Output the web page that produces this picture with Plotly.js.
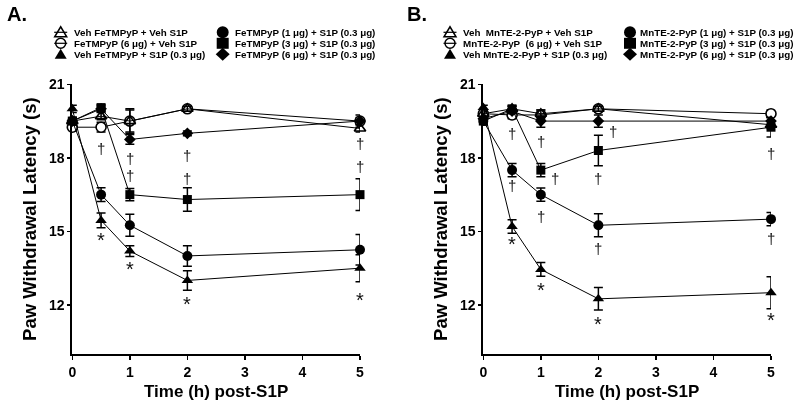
<!DOCTYPE html>
<html>
<head>
<meta charset="utf-8">
<script src="https://cdn.plot.ly/plotly-3.0.1.min.js"></script>
<style>html,body{margin:0;padding:0;background:#fff;}#chart{width:800px;height:407px;filter:grayscale(1);}</style>
</head>
<body>
<div id="chart"></div>
<script>
// ---------- data ----------
const timeH = [0, 0.5, 1, 2, 5];

// Panel A (FeTMPyP)
const A_names = ["Veh FeTMPyP + Veh S1P", "FeTMPyP (6 μg) + Veh S1P", "Veh FeTMPyP + S1P (0.3 μg)",
                 "FeTMPyP (1 μg) + S1P (0.3 μg)", "FeTMPyP (3 μg) + S1P (0.3 μg)", "FeTMPyP (6 μg) + S1P (0.3 μg)"];
const A_vehVeh   = [19.5, 19.7, 19.5, 20.0, 19.2];
const A_vehVehE  = [0.15, 0.15, 0.5, 0.1, 0.15];
const A_fe6Veh   = [19.25, 19.25, 19.5, 20.0, 19.5];
const A_fe6VehE  = [0.15, 0.2, 0.45, 0.1, 0.15];
const A_vehS1P   = [20.0, 15.45, 14.2, 13.0, 13.5];
const A_vehS1PE  = [0.15, 0.3, 0.22, 0.4, 0.55];
const A_fe1S1P   = [19.5, 16.5, 15.25, 14.0, 14.25];
const A_fe1S1PE  = [0.15, 0.28, 0.45, 0.42, 0.62];
const A_fe3S1P   = [19.5, 20.05, 16.5, 16.3, 16.5];
const A_fe3S1PE  = [0.15, 0.12, 0.25, 0.48, 0.65];
const A_fe6S1P   = [19.5, 20.0, 18.75, 19.0, 19.5];
const A_fe6S1PE  = [0.15, 0.12, 0.2, 0.1, 0.25];
const A_daggerX  = [0.5, 1, 1, 2, 2, 5, 5];
const A_daggerY  = [18.46, 18.05, 17.37, 18.16, 17.23, 18.66, 17.71];
const A_starX    = [0.5, 1, 2, 5];
const A_starY    = [14.72, 13.56, 12.13, 12.27];

// Panel B (MnTE-2-PyP)
const B_names = ["Veh  MnTE-2-PyP + Veh S1P", "MnTE-2-PyP  (6 μg) + Veh S1P", "Veh MnTE-2-PyP + S1P (0.3 μg)",
                 "MnTE-2-PyP (1 μg) + S1P (0.3 μg)", "MnTE-2-PyP (3 μg) + S1P (0.3 μg)", "MnTE-2-PyP (6 μg) + S1P (0.3 μg)"];
const B_vehVeh   = [19.8, 20.0, 19.8, 20.0, 19.35];
const B_vehVehE  = [0.1, 0.1, 0.15, 0.1, 0.15];
const B_mn6Veh   = [19.8, 19.75, 19.75, 20.0, 19.8];
const B_mn6VehE  = [0.1, 0.15, 0.2, 0.1, 0.15];
const B_vehS1P   = [20.05, 15.2, 13.45, 12.25, 12.5];
const B_vehS1PE  = [0.1, 0.28, 0.28, 0.46, 0.65];
const B_mn1S1P   = [19.5, 17.5, 16.5, 15.25, 15.5];
const B_mn1S1PE  = [0.15, 0.27, 0.27, 0.47, 0.27];
const B_mn3S1P   = [19.5, 20.0, 17.5, 18.3, 19.25];
const B_mn3S1PE  = [0.15, 0.12, 0.27, 0.62, 0.4];
const B_mn6S1P   = [19.6, 19.9, 19.5, 19.5, 19.5];
const B_mn6S1PE  = [0.1, 0.1, 0.25, 0.25, 0.15];
const B_daggerX  = [0.5, 0.5, 1, 1.25, 1, 2.26, 2, 2, 5, 5];
const B_daggerY  = [19.07, 16.96, 18.73, 17.23, 15.67, 19.14, 17.23, 14.38, 18.25, 14.79];
const B_starX    = [0.5, 1, 2, 5];
const B_starY    = [14.58, 12.68, 11.32, 11.46];

const xTicks = [0, 1, 2, 3, 4, 5];
const yTicks = [12, 15, 18, 21];

// ---------- styles ----------
const FONT = "Liberation Sans, Arial, sans-serif";
const styles = [
  {symbol: "triangle-up-open", color: "#000", line: {color: "#000", width: 1.6}, size: 10},
  {symbol: "circle", color: "#fff", line: {color: "#000", width: 1.6}, size: 10},
  {symbol: "triangle-up", color: "#000", line: {color: "#000", width: 0}, size: 10},
  {symbol: "circle", color: "#000", line: {color: "#000", width: 0}, size: 10},
  {symbol: "square", color: "#000", line: {color: "#000", width: 0}, size: 9},
  {symbol: "diamond", color: "#000", line: {color: "#000", width: 0}, size: 9}
];
const drawOrder = [1, 0, 2, 3, 4, 5];

function makeTraces(names, ys, es, xa, ya) {
  const out = [];
  drawOrder.forEach(i => {
    out.push({
      type: "scatter", mode: "lines+markers", name: names[i], showlegend: false,
      x: timeH, y: ys[i], xaxis: xa, yaxis: ya, cliponaxis: false,
      line: {color: "#000", width: 1},
      marker: {symbol: styles[i].symbol, size: styles[i].size, color: styles[i].color, line: styles[i].line},
      error_y: {type: "data", array: es[i], visible: true, color: "#000", thickness: 1.5, width: 4.5}
    });
  });
  return out;
}

const traces = [].concat(
  makeTraces(A_names, [A_vehVeh, A_fe6Veh, A_vehS1P, A_fe1S1P, A_fe3S1P, A_fe6S1P],
             [A_vehVehE, A_fe6VehE, A_vehS1PE, A_fe1S1PE, A_fe3S1PE, A_fe6S1PE], "x", "y"),
  makeTraces(B_names, [B_vehVeh, B_mn6Veh, B_vehS1P, B_mn1S1P, B_mn3S1P, B_mn6S1P],
             [B_vehVehE, B_mn6VehE, B_vehS1PE, B_mn1S1PE, B_mn3S1PE, B_mn6S1PE], "x2", "y2")
);

// ---------- layout ----------
const W = 800, H = 407;
const px = v => v / W, py = v => 1 - v / H;

function xAxis(domain, anchor) {
  return {domain: domain, anchor: anchor, range: [0, 5], tickvals: xTicks, ticktext: xTicks.map(String),
    showline: true, linewidth: 2, linecolor: "#000", ticks: "outside", ticklen: 4, tickwidth: 1.5, tickcolor: "#000",
    showgrid: false, zeroline: false, tickfont: {family: FONT, size: 14, color: "#000", weight: "bold"},
    title: {text: "Time (h) post-S1P", font: {family: FONT, size: 17, color: "#000", weight: "bold"}, standoff: 6}};
}
function yAxis(domain, anchor) {
  return {domain: domain, anchor: anchor, range: [10, 21], tickvals: yTicks, ticktext: yTicks.map(String),
    showline: true, linewidth: 2, linecolor: "#000", ticks: "outside", ticklen: 3, tickwidth: 1.5, tickcolor: "#000",
    showgrid: false, zeroline: false, tickfont: {family: FONT, size: 14, color: "#000", weight: "bold"},
    title: {text: "Paw Withdrawal Latency (s)", font: {family: FONT, size: 18.5, color: "#000", weight: "bold"}, standoff: 7}};
}

const annotations = [];
const shapes = [];

// significance marks (data coordinates)
function addMarks(xs, ys, xref, yref, txt, size, shift) {
  xs.forEach((x, i) => annotations.push({xref: xref, yref: yref, x: x, y: ys[i], text: txt, showarrow: false,
    yshift: shift, borderpad: 0, font: {family: FONT, size: size, color: "#111"}}));
}
addMarks(A_daggerX, A_daggerY, "x", "y", "†", 15, -2);
addMarks(B_daggerX, B_daggerY, "x2", "y2", "†", 15, -2);
addMarks(A_starX, A_starY, "x", "y", "*", 20, -2);
addMarks(B_starX, B_starY, "x2", "y2", "*", 20, -2);

// legends: text via one annotation per column (11px line spacing), symbols as pixel-sized shapes
const rowsY = [32.3, 43.3, 54.3];
const BASE = 11 / 1.3;
const TRI = "M-6,-4.5L6,-4.5L0,5.5Z";
const DIA = "M0,6.5L7,0L0,-6.5L-7,0Z";
const legendSymbols = [
  {type: "path", path: TRI, filled: false, through: true},
  {type: "circle", r: 5, filled: false, through: true},
  {type: "path", path: TRI, filled: true},
  {type: "circle", r: 6, filled: true},
  {type: "rect", w: 6, h: 5.5, filled: true},
  {type: "path", path: DIA, filled: true}
];
function addSymbol(sym, x, y) {
  const base = {xref: "paper", yref: "paper", xsizemode: "pixel", ysizemode: "pixel", xanchor: px(x), yanchor: py(y),
    fillcolor: sym.filled ? "#000" : "rgba(0,0,0,0)", line: {color: "#000", width: sym.filled ? 0 : 1.5}};
  if (sym.type === "path") shapes.push(Object.assign(base, {type: "path", path: sym.path}));
  else if (sym.type === "circle") shapes.push(Object.assign(base, {type: "circle", x0: -sym.r, x1: sym.r, y0: -sym.r, y1: sym.r}));
  else shapes.push(Object.assign(base, {type: "rect", x0: -sym.w, x1: sym.w, y0: -sym.h, y1: sym.h}));
  if (sym.through) shapes.push({type: "line", xref: "paper", yref: "paper", x0: px(x - 6.5), x1: px(x + 6.5),
    y0: py(y), y1: py(y), line: {color: "#000", width: 1.2}});
}
function addLegend(names, col1Marker, col1Text, col2Marker, col2Text) {
  [0, 1].forEach(col => {
    const idx = [col * 3, col * 3 + 1, col * 3 + 2];
    const mx = col === 0 ? col1Marker : col2Marker;
    const tx = col === 0 ? col1Text : col2Text;
    annotations.push({xref: "paper", yref: "paper", x: px(tx), y: py(rowsY[1]), xanchor: "left", yanchor: "middle",
      align: "left", borderpad: 0,
      text: idx.map(i => `<span style="font-size:9.8px">${names[i]}</span>`).join("<br>"),
      showarrow: false, font: {family: FONT, size: BASE, color: "#000", weight: "bold"}});
    idx.forEach((i, r) => addSymbol(legendSymbols[i], mx, rowsY[r]));
  });
}
addLegend(A_names, 60.7, 73, 222.7, 234);
addLegend(B_names, 450, 462, 630, 639);
annotations.push({xref: "paper", yref: "paper", x: px(5), y: py(13.5), xanchor: "left", yanchor: "middle",
  text: "A.", showarrow: false, font: {family: FONT, size: 20, color: "#000", weight: "bold"}});
annotations.push({xref: "paper", yref: "paper", x: px(405), y: py(13.5), xanchor: "left", yanchor: "middle",
  text: "B.", showarrow: false, font: {family: FONT, size: 20, color: "#000", weight: "bold"}});

const yDom = [py(354), py(84.3)];
const layout = {
  width: W, height: H, margin: {l: 0, r: 0, t: 0, b: 0},
  paper_bgcolor: "#fff", plot_bgcolor: "#fff", showlegend: false,
  font: {family: FONT, color: "#000"},
  xaxis: xAxis([px(72.3), px(360)], "y"),
  yaxis: yAxis(yDom, "x"),
  xaxis2: xAxis([px(483.3), px(771)], "y2"),
  yaxis2: yAxis(yDom, "x2"),
  annotations: annotations, shapes: shapes
};

Plotly.newPlot("chart", traces, layout, {staticPlot: true, displayModeBar: false});
</script>
</body>
</html>
